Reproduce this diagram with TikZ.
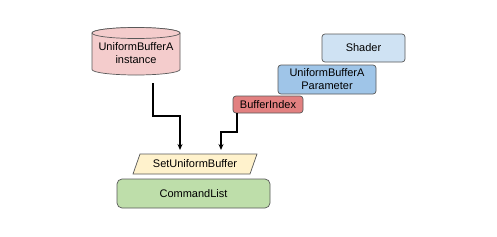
\documentclass[tikz,border=0pt]{standalone}
\usepackage{fontspec}
\setmainfont{Liberation Sans}
\usetikzlibrary{arrows.meta}
\begin{document}
\begin{tikzpicture}[x=1pt,y=-1pt,
  box/.style={draw=black!65,line width=0.7pt,rounded corners=3pt,font=\fontsize{11}{13}\selectfont,align=center,inner sep=0pt},
  cyl/.style={draw=black!65,line width=0.7pt,fill={rgb,255:red,244;green,204;blue,204}},
  conn/.style={line width=1.1pt,-{Stealth[length=6pt,width=5pt]}}]
\useasboundingbox[fill=white] (0,0) rectangle (497,236);
% cylinder
\path[cyl] (92,33) -- (92,69.5) arc[start angle=180,end angle=0,x radius=44,y radius=5.5] -- (180,33) arc[start angle=0,end angle=-180,x radius=44,y radius=5.5] -- cycle;
\path[cyl] (136,33) ellipse[x radius=44,y radius=5.5];
\node[font=\fontsize{11}{13}\selectfont,align=center] (inst) at (136,53) {UniformBufferA\\instance};
% right stack
\node[box,fill={rgb,255:red,207;green,226;blue,243},minimum width=83pt,minimum height=28pt] (shader) at (363.5,48) {Shader};
\node[box,fill={rgb,255:red,159;green,197;blue,232},minimum width=98pt,minimum height=29pt] (param) at (327,79.5) {UniformBufferA\\Parameter};
\node[box,fill={rgb,255:red,226;green,128;blue,128},minimum width=70pt,minimum height=17pt] (bidx) at (268,104.5) {BufferIndex};
% parallelogram
\draw[draw=black!65,line width=0.7pt,fill={rgb,255:red,255;green,242;blue,204}] (140,154) -- (257,154) -- (250,174) -- (133,174) -- cycle;
\node[font=\fontsize{11}{13}\selectfont] (set) at (195,164) {SetUniformBuffer};
% command list
\node[box,fill={rgb,255:red,190;green,222;blue,170},rounded corners=5pt,minimum width=153pt,minimum height=29pt] (cmd) at (193.5,193.5) {CommandList};
% connectors
\coordinate (a1) at (153,83);
\coordinate (a2) at (180,150);
\coordinate (b1) at (237,113);
\coordinate (b2) at (221,150);
\draw[conn] (a1) -- (153,116) -- (180,116) -- (a2);
\draw[conn] (b1) -- (237,132) -- (221,132) -- (b2);
\end{tikzpicture}
\end{document}
